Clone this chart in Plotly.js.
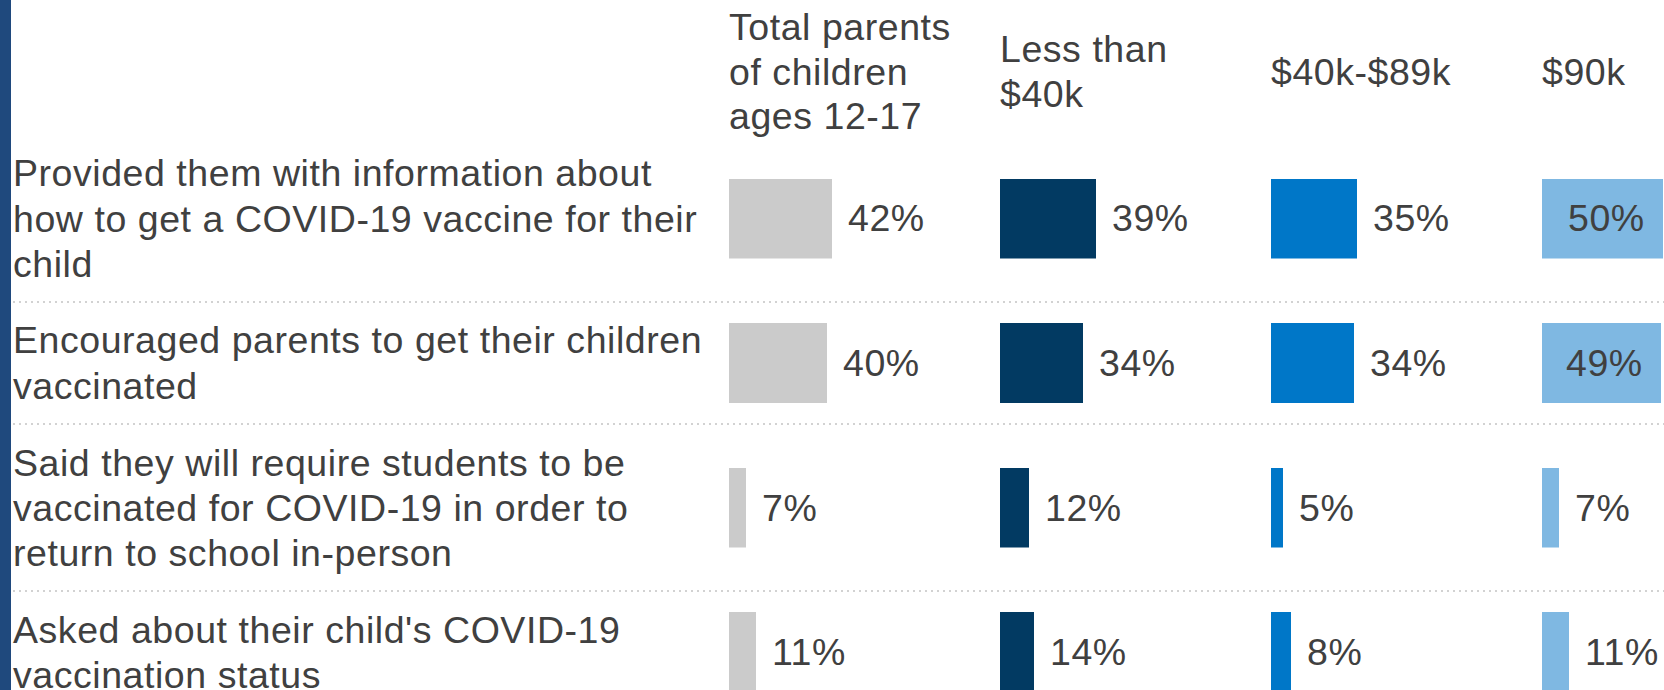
<!DOCTYPE html>
<html>
<head>
<meta charset="utf-8">
<script src="https://cdn.plot.ly/plotly-3.0.1.min.js"></script>
<style>
  html, body { margin: 0; padding: 0; background: #ffffff; }
  #chart { width: 1664px; height: 690px; }
  svg text { letter-spacing: 0.55px; }
</style>
</head>
<body>
<div id="chart"></div>
<script>
// ---------------- DATA ----------------
const categories = [
  "Provided them with information about<br>how to get a COVID-19 vaccine for their<br>child",
  "Encouraged parents to get their children<br>vaccinated",
  "Said they will require students to be<br>vaccinated for COVID-19 in order to<br>return to school in-person",
  "Asked about their child's COVID-19<br>vaccination status"
];
const groupLabels = [
  "Total parents<br>of children<br>ages 12-17",
  "Less than<br>$40k",
  "$40k-$89k",
  "$90k"
];
const totalParents = [42, 40, 7, 11];
const lessThan40k  = [39, 34, 12, 14];
const from40kTo89k = [35, 34, 5, 8];
const over90k      = [50, 49, 7, 11];

const series = [totalParents, lessThan40k, from40kTo89k, over90k];
const colors = ["#cbcbcb", "#023a62", "#0077c8", "#7fb8e2"];

// ---------------- LAYOUT CONSTANTS ----------------
const W = 1664, H = 690;
const FONT = '"Liberation Sans", Arial, Helvetica, sans-serif';
const FS = 37.5;
const TXT = "#404040";
const LINE_H = 45;           // line spacing of text blocks (px)
const ROW_PAD = 32;          // extra height per row (px)
const FIRST_ROW_TOP = 135;   // px from top
const BAR_H = 80;            // bar thickness (px)
const colStartPx = [729, 1000, 1271, 1542];
const PX_PER_PCT = 2.45;
const COL_W = 245;
const HEADER_CENTER = 71.5;
const LABEL_X = 13;

const py = p => 1 - p / H;   // px from top -> paper y

// rows geometry
const rowLines = categories.map(c => c.split("<br>").length);
const rowTop = [], rowCenter = [];
let cursor = FIRST_ROW_TOP;
rowLines.forEach(n => {
  const h = n * LINE_H + ROW_PAD;
  rowTop.push(cursor);
  rowCenter.push(cursor + h / 2);
  cursor += h;
});

const layout = {
  width: W, height: H,
  margin: {l: 0, r: 0, t: 0, b: 0, pad: 0},
  paper_bgcolor: "#ffffff",
  plot_bgcolor: "rgba(0,0,0,0)",
  showlegend: false,
  bargap: 0,
  font: {family: FONT, size: FS, color: TXT},
  annotations: [],
  shapes: []
};

// x axes (one per column)
const colVisibleW = [];
colStartPx.forEach((s, c) => {
  const e = Math.min(s + COL_W, W);
  colVisibleW.push(e - s);
  const maxVal = Math.max(...series[c]);
  layout["xaxis" + (c === 0 ? "" : c + 1)] = {
    domain: [s / W, e / W],
    range: [0, Math.max((e - s) / PX_PER_PCT, maxVal + 0.3)],
    showgrid: false, zeroline: false, showline: false,
    showticklabels: false, ticks: "", fixedrange: true
  };
});

// y axes (one per row)
rowCenter.forEach((cy, r) => {
  const top = cy - BAR_H / 2, bot = cy + BAR_H / 2;
  const ct = Math.max(top, 0), cb = Math.min(bot, H);
  layout["yaxis" + (r === 0 ? "" : r + 1)] = {
    type: "category",
    domain: [py(cb), py(ct)],
    range: [-0.5 + (bot - cb) / BAR_H, 0.5 - (ct - top) / BAR_H],
    showgrid: false, zeroline: false, showline: false,
    showticklabels: false, ticks: "", fixedrange: true
  };
});

// traces + value labels
const traces = [];
series.forEach((vals, c) => {
  vals.forEach((v, r) => {
    const xa = "x" + (c === 0 ? "" : c + 1);
    const ya = "y" + (r === 0 ? "" : r + 1);
    traces.push({
      type: "bar", orientation: "h",
      x: [v], y: [categories[r]],
      xaxis: xa, yaxis: ya,
      width: 1,
      marker: {color: colors[c], line: {width: 0}},
      hoverinfo: "skip"
    });
    const label = v + "%";
    const labelW = (String(v).length * 0.556 + 0.889) * FS;
    const fitsOutside = v * PX_PER_PCT + 16 + labelW <= colVisibleW[c];
    layout.annotations.push({
      xref: xa, yref: ya, x: v, y: categories[r],
      text: label, showarrow: false,
      xanchor: fitsOutside ? "left" : "right",
      yanchor: "middle",
      xshift: fitsOutside ? 16 : -18,
      borderpad: 0, borderwidth: 0,
      font: {family: FONT, size: FS, color: TXT}
    });
  });
});

// row labels (one annotation per line)
categories.forEach((cat, r) => {
  const lines = cat.split("<br>");
  lines.forEach((ln, i) => {
    const cy = rowCenter[r] + (i - (lines.length - 1) / 2) * LINE_H;
    layout.annotations.push({
      xref: "paper", yref: "paper", x: LABEL_X / W, y: py(cy),
      text: ln, showarrow: false, xanchor: "left", yanchor: "middle",
      borderpad: 0, borderwidth: 0,
      font: {family: FONT, size: FS, color: TXT}
    });
  });
});

// column headers
groupLabels.forEach((g, c) => {
  const lines = g.split("<br>");
  lines.forEach((ln, i) => {
    const cy = HEADER_CENTER + (i - (lines.length - 1) / 2) * LINE_H;
    layout.annotations.push({
      xref: "paper", yref: "paper", x: colStartPx[c] / W, y: py(cy),
      text: ln, showarrow: false, xanchor: "left", yanchor: "middle",
      borderpad: 0, borderwidth: 0,
      font: {family: FONT, size: FS, color: TXT}
    });
  });
});

// dotted row separators
rowTop.slice(1).forEach(t => {
  layout.shapes.push({
    type: "line", xref: "paper", yref: "paper",
    x0: LABEL_X / W, x1: 1, y0: py(t), y1: py(t),
    line: {color: "#d2d2d2", width: 2, dash: "2px,4px"}
  });
});

// left accent bar
layout.shapes.push({
  type: "rect", xref: "paper", yref: "paper",
  x0: 0, x1: 11 / W, y0: 0, y1: 1,
  fillcolor: "#1f497d", line: {width: 0}, layer: "above"
});

Plotly.newPlot("chart", traces, layout, {staticPlot: true, displayModeBar: false, responsive: false});
</script>
</body>
</html>
